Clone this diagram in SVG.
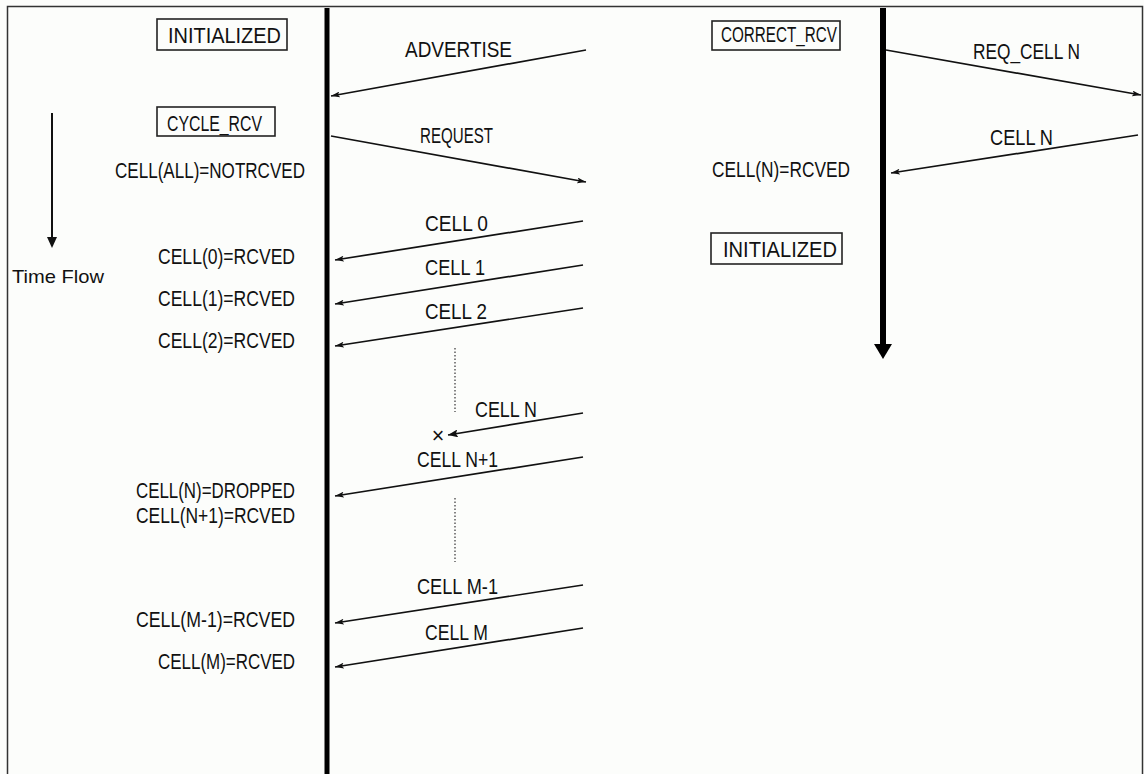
<svg xmlns="http://www.w3.org/2000/svg" width="1144" height="774" viewBox="0 0 1144 774">
<defs>
<style>
.t{font-family:"Liberation Sans",Arial,sans-serif;font-size:21.5px;fill:#111;}
.b{font-size:22.5px;}
.tf{font-family:"Liberation Sans",Arial,sans-serif;font-size:18.5px;fill:#111;}
.box{fill:none;stroke:#222;stroke-width:1.6;}
.msg{stroke:#111;stroke-width:1.7;fill:none;}
.dot{stroke:#444;stroke-width:1.3;stroke-dasharray:1.5 2;fill:none;}
.life{stroke:#000;}
</style>
<marker id="ah" viewBox="0 0 9 6" refX="9" refY="3" markerWidth="9" markerHeight="6" markerUnits="userSpaceOnUse" orient="auto">
<path d="M0,0 L9,3 L0,6 L2,3 z" fill="#111"/>
</marker>
<marker id="ahb" viewBox="0 0 10 8" refX="10" refY="4" markerWidth="10" markerHeight="8" markerUnits="userSpaceOnUse" orient="auto">
<path d="M0,0 L10,4 L0,8 L2,4 z" fill="#111"/>
</marker>
</defs>
<rect x="0" y="0" width="1144" height="774" fill="#fcfdfb"/>
<rect x="7.5" y="6.5" width="1135" height="800" fill="none" stroke="#333" stroke-width="1.5"/>

<g id="lifeline-left"><line class="life" x1="327" y1="8" x2="327" y2="774" stroke-width="5"/></g>
<g id="lifeline-right">
<line class="life" x1="883" y1="8" x2="883" y2="346" stroke-width="6"/>
<polygon points="874,344 892,344 883,359" fill="#000"/>
</g>
<g id="time-flow">
<line x1="52" y1="113" x2="52" y2="238" stroke="#111" stroke-width="2"/>
<polygon points="47,237 57,237 52,248" fill="#111"/>
<text class="tf" x="12" y="283" textLength="92" lengthAdjust="spacingAndGlyphs">Time Flow</text>
</g>

<g id="state-initialized-1"><rect class="box" x="157" y="19" width="130" height="31"/><text class="t b" x="168" y="43" textLength="113" lengthAdjust="spacingAndGlyphs">INITIALIZED</text></g>
<g id="state-cycle-rcv"><rect class="box" x="157" y="107" width="118" height="29"/><text class="t b" x="167" y="131" textLength="95" lengthAdjust="spacingAndGlyphs">CYCLE_RCV</text></g>
<g id="state-correct-rcv"><rect class="box" x="712" y="21" width="128" height="29"/><text class="t b" x="721" y="42" textLength="116" lengthAdjust="spacingAndGlyphs">CORRECT_RCV</text></g>
<g id="state-initialized-2"><rect class="box" x="711" y="233" width="131" height="31"/><text class="t b" x="723" y="257" textLength="114" lengthAdjust="spacingAndGlyphs">INITIALIZED</text></g>

<g id="notes">
<text class="t" x="115" y="178" textLength="190" lengthAdjust="spacingAndGlyphs">CELL(ALL)=NOTRCVED</text>
<text class="t" x="158" y="264" textLength="137" lengthAdjust="spacingAndGlyphs">CELL(0)=RCVED</text>
<text class="t" x="158" y="306" textLength="137" lengthAdjust="spacingAndGlyphs">CELL(1)=RCVED</text>
<text class="t" x="158" y="348" textLength="137" lengthAdjust="spacingAndGlyphs">CELL(2)=RCVED</text>
<text class="t" x="136" y="498" textLength="159" lengthAdjust="spacingAndGlyphs">CELL(N)=DROPPED</text>
<text class="t" x="136" y="523" textLength="159" lengthAdjust="spacingAndGlyphs">CELL(N+1)=RCVED</text>
<text class="t" x="136" y="627" textLength="159" lengthAdjust="spacingAndGlyphs">CELL(M-1)=RCVED</text>
<text class="t" x="158" y="669" textLength="137" lengthAdjust="spacingAndGlyphs">CELL(M)=RCVED</text>
<text class="t" x="712" y="177" textLength="138" lengthAdjust="spacingAndGlyphs">CELL(N)=RCVED</text>
</g>

<g id="connectors">
<line class="msg" x1="586" y1="50" x2="331" y2="96" marker-end="url(#ah)"/>
<line class="msg" x1="331" y1="136" x2="586" y2="182" marker-end="url(#ah)"/>
<line class="msg" x1="583" y1="221" x2="335" y2="260" marker-end="url(#ah)"/>
<line class="msg" x1="583" y1="265" x2="335" y2="304" marker-end="url(#ah)"/>
<line class="msg" x1="583" y1="308" x2="335" y2="346" marker-end="url(#ah)"/>
<line class="msg" x1="583" y1="413" x2="448" y2="435" stroke-width="2.3" marker-end="url(#ahb)"/>
<line class="msg" x1="583" y1="457" x2="335" y2="496" marker-end="url(#ah)"/>
<line class="msg" x1="583" y1="585" x2="335" y2="623" marker-end="url(#ah)"/>
<line class="msg" x1="583" y1="628" x2="335" y2="667" marker-end="url(#ah)"/>
<line class="msg" x1="886" y1="50" x2="1141" y2="95" marker-end="url(#ah)"/>
<line class="msg" x1="1138" y1="135" x2="891" y2="173" marker-end="url(#ah)"/>
<line class="dot" x1="455" y1="348" x2="455" y2="412"/>
<line class="dot" x1="455" y1="498" x2="455" y2="562"/>
</g>

<g id="labels">
<text class="t" x="405" y="57" textLength="107" lengthAdjust="spacingAndGlyphs">ADVERTISE</text>
<text class="t" x="420" y="143" textLength="73" lengthAdjust="spacingAndGlyphs">REQUEST</text>
<text class="t" x="425" y="231" textLength="63" lengthAdjust="spacingAndGlyphs">CELL 0</text>
<text class="t" x="425" y="275" textLength="60" lengthAdjust="spacingAndGlyphs">CELL 1</text>
<text class="t" x="425" y="319" textLength="62" lengthAdjust="spacingAndGlyphs">CELL 2</text>
<text class="t" x="475" y="417" textLength="62" lengthAdjust="spacingAndGlyphs">CELL N</text>
<text class="t" x="438" y="443" text-anchor="middle" font-size="18">×</text>
<text class="t" x="417" y="467" textLength="81" lengthAdjust="spacingAndGlyphs">CELL N+1</text>
<text class="t" x="417" y="594" textLength="81" lengthAdjust="spacingAndGlyphs">CELL M-1</text>
<text class="t" x="425" y="640" textLength="63" lengthAdjust="spacingAndGlyphs">CELL M</text>
<text class="t" x="973" y="59" textLength="107" lengthAdjust="spacingAndGlyphs">REQ_CELL N</text>
<text class="t" x="990" y="145" textLength="63" lengthAdjust="spacingAndGlyphs">CELL N</text>
</g>
</svg>
